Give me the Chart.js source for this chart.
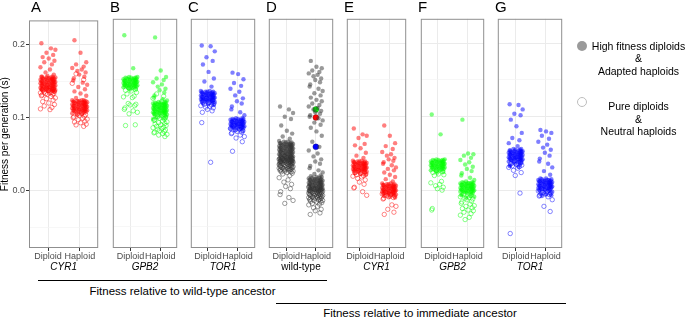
<!DOCTYPE html>
<html>
<head>
<meta charset="utf-8">
<script src="https://cdn.jsdelivr.net/npm/chart.js@4.4.0/dist/chart.umd.min.js"></script>
<style>
  body { margin: 0; background: #fff; font-family: "Liberation Sans", Arial, sans-serif; }
  #fig { position: relative; width: 685px; height: 317px; overflow: hidden; background: #fff; }
  .box { position: absolute; }
  .txt { position: absolute; white-space: nowrap; color: #000; }
  .rule { position: absolute; height: 0; border-top: 1px solid #000; }
</style>
</head>
<body>
<div id="fig"></div>
<script>
// categories and facet labels
const categories = ['Diploid', 'Haploid'];
const panelLetters = ['A', 'B', 'C', 'D', 'E', 'F', 'G'];
const genes = ['CYR1', 'GPB2', 'TOR1', 'wild-type', 'CYR1', 'GPB2', 'TOR1'];
const yTicks = [-0.05, 0, 0.05, 0.1, 0.15, 0.2];

// x jitter offsets (in category units) used to spread the strip points
const jitter = [-0.21, 0.09, 0.23, -0.05, 0.16, -0.17, 0.02, 0.20, -0.12, 0.12, -0.24, 0.06, -0.08, 0.18, -0.02, 0.14, -0.19];

// hi = high fitness diploids / adapted haploids (filled), lo = pure diploids / neutral haploids (open)
const A_dip_hi = [0.202, 0.195, 0.193, 0.189, 0.186, 0.183, 0.181, 0.178, 0.176, 0.173, 0.169, 0.166, 0.162, 0.159, 0.157,
  0.156, 0.156, 0.156, 0.155, 0.155, 0.155, 0.154, 0.154, 0.154, 0.153, 0.153, 0.153, 0.152, 0.152, 0.152, 0.151, 0.151, 0.151, 0.150, 0.150, 0.150, 0.149, 0.149, 0.149, 0.148, 0.148, 0.148, 0.147, 0.147, 0.147, 0.146, 0.146, 0.146, 0.145, 0.145, 0.145, 0.144, 0.144, 0.144, 0.143, 0.143, 0.143, 0.142, 0.142, 0.142, 0.141, 0.141, 0.141, 0.140, 0.140, 0.140, 0.139, 0.139, 0.139, 0.138, 0.138, 0.138, 0.137, 0.137, 0.136, 0.136];
const A_dip_lo = [0.140, 0.139, 0.138, 0.137, 0.136, 0.135, 0.135, 0.134, 0.134, 0.133, 0.133, 0.132, 0.132, 0.131, 0.130, 0.129, 0.127, 0.126, 0.124, 0.122, 0.120, 0.118, 0.116, 0.114, 0.112, 0.111];
const A_hap_hi = [0.206, 0.189, 0.176, 0.173, 0.170, 0.168, 0.166, 0.164, 0.162, 0.159, 0.156, 0.154, 0.151, 0.148, 0.145, 0.142, 0.139, 0.136, 0.133, 0.130, 0.127,
  0.124, 0.124, 0.124, 0.123, 0.123, 0.123, 0.122, 0.122, 0.122, 0.121, 0.121, 0.121, 0.120, 0.120, 0.120, 0.119, 0.119, 0.119, 0.118, 0.118, 0.118, 0.117, 0.117, 0.117, 0.116, 0.116, 0.116, 0.115, 0.115, 0.115, 0.114, 0.114, 0.114, 0.113, 0.113, 0.113, 0.112, 0.112, 0.112, 0.111, 0.111, 0.111, 0.110, 0.110, 0.110, 0.109, 0.109, 0.109, 0.108, 0.108, 0.107, 0.107, 0.106, 0.105, 0.104];
const A_hap_lo = [0.160, 0.152, 0.147, 0.106, 0.105, 0.104, 0.103, 0.102, 0.101, 0.100, 0.099, 0.098, 0.097, 0.095, 0.094, 0.093, 0.091, 0.090, 0.088];

const B_dip_hi = [0.211, 0.166,
  0.154, 0.154, 0.153, 0.153, 0.153, 0.152, 0.152, 0.152, 0.151, 0.151, 0.151, 0.150, 0.150, 0.150, 0.149, 0.149, 0.149, 0.148, 0.148, 0.148, 0.147, 0.147, 0.147, 0.146, 0.146, 0.146, 0.145, 0.145, 0.145, 0.144, 0.144, 0.144, 0.143, 0.143, 0.143, 0.142, 0.142, 0.142, 0.141, 0.141, 0.141, 0.140, 0.140, 0.139, 0.139, 0.138, 0.137];
const B_dip_lo = [0.139, 0.137, 0.136, 0.135, 0.133, 0.131, 0.128, 0.127, 0.126, 0.118, 0.117, 0.116, 0.115, 0.112, 0.110, 0.108, 0.106, 0.104, 0.089, 0.088];
const B_hap_hi = [0.208, 0.163, 0.154, 0.152, 0.150, 0.147, 0.144, 0.141, 0.138, 0.136, 0.133, 0.129, 0.126, 0.124, 0.122,
  0.120, 0.120, 0.119, 0.119, 0.119, 0.118, 0.118, 0.118, 0.117, 0.117, 0.117, 0.116, 0.116, 0.116, 0.115, 0.115, 0.115, 0.114, 0.114, 0.114, 0.113, 0.113, 0.113, 0.112, 0.112, 0.112, 0.111, 0.111, 0.111, 0.110, 0.110, 0.110, 0.109, 0.109, 0.109, 0.108, 0.108, 0.108, 0.107, 0.107, 0.107, 0.106, 0.106, 0.106, 0.105, 0.105, 0.105, 0.104, 0.104, 0.104, 0.103, 0.103, 0.102, 0.102, 0.101, 0.100, 0.099, 0.098, 0.097];
const B_hap_lo = [0.131, 0.128, 0.125, 0.121, 0.100, 0.099, 0.098, 0.097, 0.096, 0.095, 0.094, 0.093, 0.092, 0.091, 0.090, 0.089, 0.088, 0.087, 0.086, 0.085, 0.084, 0.083, 0.082, 0.081, 0.080, 0.079, 0.078, 0.077, 0.076, 0.075, 0.073];

const C_dip_hi = [0.197, 0.196, 0.189, 0.181, 0.176, 0.171, 0.161, 0.152, 0.148, 0.141,
  0.135, 0.135, 0.134, 0.134, 0.134, 0.133, 0.133, 0.133, 0.132, 0.132, 0.132, 0.131, 0.131, 0.131, 0.130, 0.130, 0.130, 0.129, 0.129, 0.129, 0.128, 0.128, 0.128, 0.127, 0.127, 0.127, 0.126, 0.126, 0.126, 0.125, 0.125, 0.125, 0.124, 0.124, 0.124, 0.123, 0.123, 0.123, 0.122, 0.122, 0.122, 0.121, 0.121, 0.120, 0.120, 0.119, 0.118, 0.117, 0.116];
const C_dip_lo = [0.125, 0.122, 0.120, 0.119, 0.118, 0.117, 0.116, 0.115, 0.114, 0.113, 0.112, 0.110, 0.108, 0.106, 0.092, 0.038];
const C_hap_hi = [0.160, 0.158, 0.151, 0.146, 0.142, 0.138, 0.134, 0.129, 0.125, 0.121, 0.118, 0.114, 0.110, 0.106, 0.102,
  0.098, 0.098, 0.097, 0.097, 0.097, 0.096, 0.096, 0.096, 0.095, 0.095, 0.095, 0.094, 0.094, 0.094, 0.093, 0.093, 0.093, 0.092, 0.092, 0.092, 0.091, 0.091, 0.091, 0.090, 0.090, 0.090, 0.089, 0.089, 0.089, 0.088, 0.088, 0.088, 0.087, 0.087, 0.087, 0.086, 0.086, 0.086, 0.085, 0.085, 0.084, 0.084, 0.083, 0.082, 0.081];
const C_hap_lo = [0.088, 0.086, 0.084, 0.083, 0.082, 0.081, 0.080, 0.079, 0.078, 0.077, 0.075, 0.073, 0.071, 0.066, 0.053];

const D_dip_hi = [0.114, 0.110, 0.105, 0.100, 0.097, 0.088, 0.081, 0.077, 0.073, 0.070,
  0.067, 0.066, 0.066, 0.065, 0.065, 0.064, 0.064, 0.064, 0.063, 0.063, 0.063, 0.062, 0.062, 0.062, 0.061, 0.061, 0.061, 0.060, 0.060, 0.060, 0.059, 0.059, 0.059, 0.058, 0.058, 0.058, 0.057, 0.057, 0.057, 0.056, 0.056, 0.056, 0.055, 0.055, 0.055, 0.054, 0.054, 0.054, 0.053, 0.053, 0.053, 0.052, 0.052, 0.052, 0.051, 0.051, 0.051, 0.050, 0.050, 0.050, 0.049, 0.049, 0.049, 0.048, 0.048, 0.048, 0.047, 0.047, 0.047, 0.046, 0.046, 0.046, 0.045, 0.045, 0.045, 0.044, 0.044, 0.044, 0.043, 0.043, 0.043, 0.042, 0.042, 0.042, 0.041, 0.041, 0.041, 0.040, 0.040, 0.040, 0.039, 0.039, 0.038, 0.038, 0.037, 0.036];
const D_dip_lo = [0.046, 0.045, 0.044, 0.044, 0.043, 0.043, 0.042, 0.042, 0.041, 0.041, 0.040, 0.040, 0.039, 0.039, 0.039, 0.038, 0.038, 0.038, 0.037, 0.037, 0.037, 0.036, 0.036, 0.036, 0.035, 0.035, 0.035, 0.034, 0.034, 0.034, 0.033, 0.033, 0.033, 0.032, 0.032, 0.032, 0.031, 0.031, 0.031, 0.030, 0.030, 0.030, 0.029, 0.029, 0.029, 0.028, 0.028, 0.028, 0.027, 0.027, 0.026, 0.026, 0.025, 0.025, 0.024, 0.023, 0.022, 0.020, 0.017, 0.014, 0.011, 0.008, 0.005, 0.002, -0.002, -0.006, -0.010, -0.014, -0.018];
const D_hap_hi = [0.176, 0.168, 0.166, 0.163, 0.161, 0.159, 0.157, 0.155, 0.152, 0.150, 0.147, 0.144, 0.141, 0.138, 0.135, 0.132, 0.129, 0.126, 0.123, 0.121, 0.118, 0.116, 0.114, 0.112, 0.110, 0.108, 0.106, 0.104, 0.102, 0.100, 0.098, 0.095, 0.092, 0.089, 0.085, 0.080, 0.074, 0.066, 0.059, 0.054, 0.050, 0.046, 0.042, 0.039, 0.036, 0.033, 0.030, 0.027, 0.024, 0.022,
  0.020, 0.019, 0.018, 0.018, 0.017, 0.017, 0.016, 0.016, 0.015, 0.015, 0.015, 0.014, 0.014, 0.014, 0.013, 0.013, 0.013, 0.012, 0.012, 0.012, 0.011, 0.011, 0.011, 0.010, 0.010, 0.010, 0.009, 0.009, 0.009, 0.008, 0.008, 0.008, 0.007, 0.007, 0.007, 0.006, 0.006, 0.006, 0.005, 0.005, 0.005, 0.004, 0.004, 0.004, 0.003, 0.003, 0.003, 0.002, 0.002, 0.002, 0.001, 0.001, 0.001, 0.000, 0.000, 0.000, -0.001, -0.001, -0.002];
const D_hap_lo = [0.006, 0.005, 0.004, 0.003, 0.002, 0.001, 0.001, 0.000, 0.000, -0.001, -0.001, -0.001, -0.002, -0.002, -0.002, -0.003, -0.003, -0.003, -0.004, -0.004, -0.004, -0.005, -0.005, -0.005, -0.006, -0.006, -0.006, -0.007, -0.007, -0.007, -0.008, -0.008, -0.008, -0.009, -0.009, -0.009, -0.010, -0.010, -0.010, -0.011, -0.011, -0.012, -0.012, -0.013, -0.013, -0.014, -0.014, -0.015, -0.015, -0.016, -0.017, -0.018, -0.019, -0.020, -0.022, -0.024, -0.026, -0.028, -0.031, -0.033];
// mutant haploids marked in the wild-type panel (CYR1 / GPB2 / TOR1)
const D_marked = [0.099, 0.110, 0.059];

const E_dip_hi = [0.084, 0.076, 0.074, 0.071, 0.063, 0.061, 0.057, 0.051, 0.047, 0.044,
  0.040, 0.040, 0.039, 0.039, 0.039, 0.038, 0.038, 0.038, 0.037, 0.037, 0.037, 0.036, 0.036, 0.036, 0.035, 0.035, 0.035, 0.034, 0.034, 0.034, 0.033, 0.033, 0.033, 0.032, 0.032, 0.032, 0.031, 0.031, 0.031, 0.030, 0.030, 0.030, 0.029, 0.029, 0.029, 0.028, 0.028, 0.028, 0.027, 0.027, 0.027, 0.026, 0.026, 0.025, 0.025, 0.024, 0.023, 0.022, 0.021];
const E_dip_lo = [0.027, 0.025, 0.024, 0.023, 0.022, 0.021, 0.020, 0.019, 0.018, 0.016, 0.014, 0.011, 0.008, 0.004, 0.003, -0.002, -0.007];
const E_hap_hi = [0.088, 0.074, 0.064, 0.060, 0.056, 0.052, 0.049, 0.047, 0.044, 0.042, 0.040, 0.038, 0.036, 0.034, 0.031, 0.029, 0.027, 0.024, 0.021, 0.018, 0.015, 0.012,
  0.009, 0.009, 0.008, 0.008, 0.008, 0.007, 0.007, 0.007, 0.006, 0.006, 0.006, 0.005, 0.005, 0.005, 0.004, 0.004, 0.004, 0.003, 0.003, 0.003, 0.002, 0.002, 0.002, 0.001, 0.001, 0.001, 0.000, 0.000, 0.000, -0.001, -0.001, -0.001, -0.002, -0.002, -0.002, -0.003, -0.003, -0.003, -0.004, -0.004, -0.004, -0.005, -0.005, -0.006, -0.006, -0.007, -0.008, -0.009, -0.010];
const E_hap_lo = [-0.003, -0.004, -0.005, -0.006, -0.007, -0.008, -0.009, -0.010, -0.011, -0.012, -0.020, -0.022, -0.026, -0.030, -0.033];

const F_dip_hi = [0.103, 0.076,
  0.042, 0.042, 0.041, 0.041, 0.041, 0.040, 0.040, 0.040, 0.039, 0.039, 0.039, 0.038, 0.038, 0.038, 0.037, 0.037, 0.037, 0.036, 0.036, 0.036, 0.035, 0.035, 0.035, 0.034, 0.034, 0.034, 0.033, 0.033, 0.033, 0.032, 0.032, 0.032, 0.031, 0.031, 0.031, 0.030, 0.030, 0.030, 0.029, 0.029, 0.028, 0.028, 0.027, 0.027, 0.026, 0.025, 0.024];
const F_dip_lo = [0.027, 0.025, 0.024, 0.022, 0.021, 0.020, 0.012, 0.010, 0.008, 0.006, 0.004, 0.002, 0.000, -0.025, -0.027];
const F_hap_hi = [0.096, 0.050, 0.049, 0.047, 0.044, 0.041, 0.038, 0.035, 0.032, 0.029, 0.026, 0.023, 0.020, 0.017, 0.014, 0.012,
  0.011, 0.011, 0.010, 0.010, 0.010, 0.009, 0.009, 0.009, 0.008, 0.008, 0.008, 0.007, 0.007, 0.007, 0.006, 0.006, 0.006, 0.005, 0.005, 0.005, 0.004, 0.004, 0.004, 0.003, 0.003, 0.003, 0.002, 0.002, 0.002, 0.001, 0.001, 0.001, 0.000, 0.000, 0.000, -0.001, -0.001, -0.001, -0.002, -0.002, -0.002, -0.003, -0.003, -0.004, -0.004, -0.005, -0.006, -0.007, -0.008, -0.009, -0.010];
const F_hap_lo = [-0.005, -0.007, -0.009, -0.010, -0.011, -0.012, -0.013, -0.015, -0.016, -0.018, -0.019, -0.021, -0.022, -0.024, -0.025, -0.027, -0.028, -0.030, -0.032, -0.034, -0.037, -0.040];

const G_dip_hi = [0.117, 0.116, 0.110, 0.104, 0.102, 0.096, 0.087, 0.078, 0.071, 0.068, 0.064, 0.060,
  0.056, 0.056, 0.055, 0.055, 0.054, 0.054, 0.054, 0.053, 0.053, 0.053, 0.052, 0.052, 0.052, 0.051, 0.051, 0.051, 0.050, 0.050, 0.050, 0.049, 0.049, 0.049, 0.048, 0.048, 0.048, 0.047, 0.047, 0.047, 0.046, 0.046, 0.046, 0.045, 0.045, 0.045, 0.044, 0.044, 0.044, 0.043, 0.043, 0.043, 0.042, 0.042, 0.042, 0.041, 0.041, 0.041, 0.040, 0.040, 0.039, 0.039, 0.038, 0.038, 0.037, 0.036, 0.035, 0.034, 0.033, 0.032];
const G_dip_lo = [0.040, 0.038, 0.036, 0.035, 0.034, 0.033, 0.032, 0.031, 0.030, 0.027, 0.024, 0.020, -0.004, -0.059];
const G_hap_hi = [0.082, 0.080, 0.078, 0.074, 0.070, 0.066, 0.062, 0.058, 0.055, 0.051, 0.047, 0.043, 0.039, 0.036, 0.031, 0.026, 0.021,
  0.016, 0.016, 0.015, 0.015, 0.014, 0.014, 0.014, 0.013, 0.013, 0.013, 0.012, 0.012, 0.012, 0.011, 0.011, 0.011, 0.010, 0.010, 0.010, 0.009, 0.009, 0.009, 0.008, 0.008, 0.008, 0.007, 0.007, 0.007, 0.006, 0.006, 0.006, 0.005, 0.005, 0.005, 0.004, 0.004, 0.004, 0.003, 0.003, 0.003, 0.002, 0.002, 0.002, 0.001, 0.001, 0.000, 0.000, -0.001, -0.002, -0.003, -0.004, -0.005, -0.006, -0.007, -0.008];
const G_hap_lo = [0.002, 0.000, -0.001, -0.002, -0.003, -0.004, -0.005, -0.006, -0.007, -0.008, -0.009, -0.013, -0.022, -0.029];

const groups = [
  [A_dip_hi, A_dip_lo, A_hap_hi, A_hap_lo],
  [B_dip_hi, B_dip_lo, B_hap_hi, B_hap_lo],
  [C_dip_hi, C_dip_lo, C_hap_hi, C_hap_lo],
  [D_dip_hi, D_dip_lo, D_hap_hi, D_hap_lo],
  [E_dip_hi, E_dip_lo, E_hap_hi, E_hap_lo],
  [F_dip_hi, F_dip_lo, F_hap_hi, F_hap_lo],
  [G_dip_hi, G_dip_lo, G_hap_hi, G_hap_lo]
];

// look
const rgb = ['255,0,0', '0,255,0', '0,0,255', '51,51,51', '255,0,0', '0,255,0', '0,0,255'];
const markedColors = ['#ff0000', '#00ff00', '#0000ff'];
const panelLeft = [29, 108, 186, 264, 342, 416, 493];
const panelWidth = [74, 74, 74, 74, 69, 73, 74];
const xMin = [0.40, 0.40, 0.42, 0.41, 0.55, 0.42, 0.39];
const Y_MIN = -0.0787, Y_MAX = 0.2333;
const PANEL_TOP = 14, PANEL_H = 234, XAXIS_H = 30, YAXIS_W = 29;
const FONT = '"Liberation Sans", Arial, sans-serif';

Chart.defaults.font.family = FONT;

const fig = document.getElementById('fig');

function strip(vals, cat, k) {
  return vals.map((v, i) => ({ x: cat + jitter[(i + k) % jitter.length], y: v }));
}

const frame = {
  id: 'frame',
  afterDraw(chart) {
    const a = chart.chartArea, c = chart.ctx;
    c.save();
    c.strokeStyle = '#8f8f8f';
    c.lineWidth = 1;
    c.strokeRect(a.left + 0.5, a.top + 0.5, a.right - a.left - 1, a.bottom - a.top - 1);
    c.restore();
  }
};

function isMajor(v) {
  return Math.abs(v * 10 - Math.round(v * 10)) < 1e-6;
}

function makePanel(p) {
  const axisW = p === 0 ? YAXIS_W : 0;
  const w = panelWidth[p] + axisW;
  const h = PANEL_H + XAXIS_H;
  const lo = xMin[p], hi = xMin[p] + panelWidth[p] / 34;
  const col = rgb[p];
  const g = groups[p];

  const filled = c => ({ backgroundColor: `rgba(${c},0.5)`, borderWidth: 0, pointRadius: 2.2 });
  const open = c => ({ backgroundColor: 'rgba(0,0,0,0)', borderColor: `rgba(${c},0.6)`, borderWidth: 0.8, pointRadius: 2.2 });

  const datasets = [
    Object.assign({ data: strip(g[1], 1, 3) }, open(col)),
    Object.assign({ data: strip(g[3], 2, 8) }, open(col)),
    Object.assign({ data: strip(g[0], 1, 0) }, filled(col)),
    Object.assign({ data: strip(g[2], 2, 5) }, filled(col))
  ];
  if (p === 3) {
    datasets.push({
      data: D_marked.map(v => ({ x: 2, y: v })),
      backgroundColor: markedColors,
      borderColor: 'rgba(40,40,40,0.6)',
      borderWidth: 0.5,
      pointRadius: 3
    });
  }

  const box = document.createElement('div');
  box.className = 'box';
  box.style.left = (panelLeft[p] - axisW) + 'px';
  box.style.top = PANEL_TOP + 'px';
  const cv = document.createElement('canvas');
  cv.width = w; cv.height = h;
  cv.style.width = w + 'px'; cv.style.height = h + 'px';
  box.appendChild(cv);
  fig.appendChild(box);

  new Chart(cv, {
    type: 'scatter',
    data: { datasets },
    plugins: [frame],
    options: {
      responsive: false,
      animation: false,
      devicePixelRatio: 1,
      events: [],
      layout: { padding: 0 },
      plugins: { legend: { display: false }, tooltip: { enabled: false } },
      scales: {
        x: {
          type: 'linear', min: lo, max: hi,
          afterBuildTicks: s => { s.ticks = [lo, 1, 2, hi].map(v => ({ value: v })); },
          afterFit: s => { s.height = XAXIS_H; },
          border: { display: false },
          grid: {
            color: '#ebebeb', lineWidth: 1, tickLength: 3,
            tickColor: ctx => (ctx.tick && (ctx.tick.value === 1 || ctx.tick.value === 2)) ? '#333' : 'rgba(0,0,0,0)'
          },
          ticks: {
            autoSkip: false, maxRotation: 0, padding: 0, color: '#4d4d4d', font: { size: 9 },
            callback: v => v === 1 ? categories[0] : v === 2 ? categories[1] : null
          },
          title: {
            display: true, text: genes[p], color: '#000',
            font: { size: 10, style: p === 3 ? 'normal' : 'italic' },
            padding: { top: 0, bottom: 5 }
          }
        },
        y: {
          min: Y_MIN, max: Y_MAX,
          afterBuildTicks: s => { s.ticks = [Y_MIN].concat(yTicks, [Y_MAX]).map(v => ({ value: v })); },
          afterFit: s => { s.width = axisW; },
          border: { display: false },
          grid: {
            drawTicks: p === 0, tickLength: 3,
            color: ctx => isMajor(ctx.tick.value) ? '#ebebeb' : '#f4f4f4',
            lineWidth: ctx => isMajor(ctx.tick.value) ? 1 : 0.7,
            tickColor: ctx => isMajor(ctx.tick.value) ? '#333' : 'rgba(0,0,0,0)'
          },
          ticks: {
            display: p === 0, padding: 1, color: '#4d4d4d', font: { size: 9 },
            callback: v => (v < -0.06 || v > 0.21) ? null : (isMajor(v) ? v.toFixed(1) : '')
          },
          title: {
            display: p === 0, text: 'Fitness per generation (s)', color: '#000',
            font: { size: 10, lineHeight: 1 }, padding: 0
          }
        }
      }
    }
  });

  const letter = document.createElement('div');
  letter.className = 'txt';
  letter.style.cssText += `left:${panelLeft[p] + 2}px;top:-2px;font-size:15px;`;
  letter.textContent = panelLetters[p];
  fig.appendChild(letter);
}

for (let p = 0; p < 7; p++) makePanel(p);

// brackets under the panels
function addRule(x, y, w) {
  const d = document.createElement('div');
  d.className = 'rule';
  d.style.left = x + 'px'; d.style.top = y + 'px'; d.style.width = w + 'px';
  fig.appendChild(d);
}
function addText(cx, cy, text, size, lh) {
  const d = document.createElement('div');
  d.className = 'txt';
  d.style.cssText += `left:${cx - 150}px;width:300px;text-align:center;top:${cy - lh / 2}px;font-size:${size}px;line-height:${lh}px;`;
  d.innerHTML = text;
  fig.appendChild(d);
}
addRule(38, 280, 289);
addText(182.5, 291, 'Fitness relative to wild-type ancestor', 11.5, 13);
addRule(276, 303, 290);
addText(420, 313, 'Fitness relative to immediate ancestor', 11.5, 13);

// legend
const dot1 = document.createElement('div');
dot1.className = 'box';
dot1.style.cssText += 'left:577px;top:41px;width:10px;height:10px;border-radius:50%;background:#9a9a9a;';
fig.appendChild(dot1);
const dot2 = document.createElement('div');
dot2.className = 'box';
dot2.style.cssText += 'left:577px;top:97px;width:8px;height:8px;border-radius:50%;border:1px solid #bdbdbd;';
fig.appendChild(dot2);
addText(638.5, 45.8, 'High fitness diploids<br>&amp;<br>Adapted haploids', 10.5, 12.5);
addText(638.5, 106.5, 'Pure diploids<br>&amp;<br>Neutral haploids', 10.5, 12.5);
</script>
</body>
</html>
